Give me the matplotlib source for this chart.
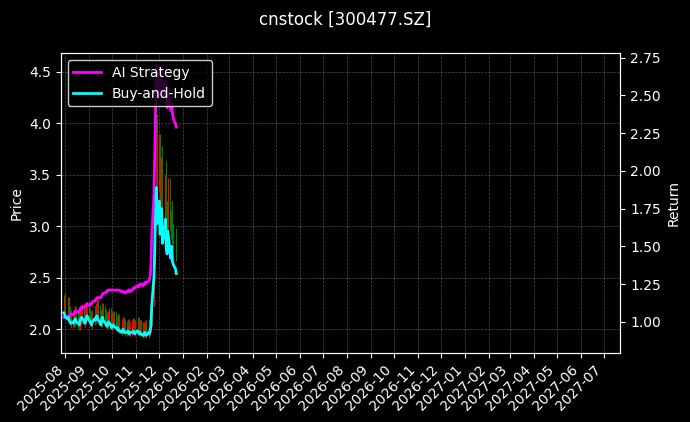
import matplotlib
matplotlib.use('Agg')
import matplotlib.pyplot as plt
import matplotlib.dates as mdates
import numpy as np
import pandas as pd

dates = pd.bdate_range('2025-07-30', periods=105)

closes = [2.22, 2.24, 2.18, 2.15, 2.20, 2.12, 2.08, 2.05, 2.08, 2.06, 2.10, 2.12, 2.08, 2.05, 2.03,
          2.07, 2.10, 2.14, 2.09, 2.06, 2.08, 2.12, 2.16, 2.10, 2.07,
          2.06, 2.04, 2.08, 2.12, 2.09, 2.15, 2.18, 2.13, 2.08, 2.06, 2.10, 2.15, 2.12, 2.09, 2.06,
          2.04, 2.07, 2.10, 2.06, 2.02, 2.04, 2.07,
          2.06, 2.03, 2.01, 2.04, 2.02, 2.00, 1.98, 2.00, 2.02, 1.99, 1.97, 1.98, 2.00, 1.99, 1.97,
          1.97, 1.99, 2.01, 1.99, 1.97, 1.99, 2.02, 1.99,
          1.97, 1.99, 1.97, 1.95, 1.97, 1.99, 1.97, 1.95, 1.99, 1.97, 2.01, 2.07,
          2.27, 2.68, 3.09, 3.50, 3.89, 3.40, 3.71, 3.25, 3.50, 3.60, 3.13, 3.34, 3.46,
          3.09, 2.99, 3.30, 3.01, 2.93, 3.09, 2.88, 2.84, 2.78, 2.72]

bh_returns = [1.06, 1.05, 1.03, 1.02, 1.03, 1.01, 1.00, 0.99, 1.00, 0.99, 1.01, 1.02, 1.00, 0.99, 0.98,
              1.00, 1.02, 1.03, 1.01, 0.99, 1.00, 1.02, 1.04, 1.01, 1.00,
              0.99, 0.98, 1.00, 1.02, 1.01, 1.03, 1.04, 1.02, 0.99, 0.98, 1.00, 1.03, 1.01, 0.99, 0.98,
              0.97, 0.98, 1.00, 0.98, 0.96, 0.97, 0.98,
              0.97, 0.96, 0.95, 0.96, 0.95, 0.94, 0.93, 0.94, 0.95, 0.93, 0.93, 0.93, 0.94, 0.93, 0.92,
              0.93, 0.93, 0.94, 0.93, 0.92, 0.93, 0.94, 0.93,
              0.92, 0.93, 0.92, 0.91, 0.92, 0.93, 0.92, 0.91, 0.93, 0.92, 0.94, 0.97,
              1.10, 1.30, 1.50, 1.70, 1.89, 1.65, 1.80, 1.58, 1.70, 1.75, 1.52, 1.62, 1.68,
              1.50, 1.45, 1.60, 1.46, 1.42, 1.50, 1.40, 1.38, 1.35, 1.32]

ai_returns = [1.03, 1.03, 1.04, 1.03, 1.03, 1.04, 1.04, 1.05, 1.05, 1.05, 1.06, 1.07, 1.07, 1.06, 1.07,
              1.08, 1.09, 1.10, 1.09, 1.10, 1.10, 1.11, 1.12, 1.11, 1.11,
              1.12, 1.12, 1.13, 1.14, 1.14, 1.15, 1.16, 1.16, 1.16, 1.16, 1.17, 1.18, 1.19, 1.19, 1.20,
              1.20, 1.21, 1.21, 1.21, 1.21, 1.21, 1.21,
              1.21, 1.21, 1.21, 1.21, 1.21, 1.21, 1.20, 1.20, 1.20, 1.20, 1.19, 1.20, 1.20, 1.21, 1.21,
              1.20, 1.21, 1.22, 1.22, 1.23, 1.23, 1.24, 1.23,
              1.24, 1.25, 1.25, 1.24, 1.25, 1.26, 1.25, 1.26, 1.27, 1.28, 1.30, 1.36,
              1.55, 1.85, 2.10, 2.40, 2.70, 2.45, 2.65, 2.50, 2.60, 2.68, 2.50, 2.55, 2.60,
              2.48, 2.42, 2.55, 2.45, 2.40, 2.45, 2.38, 2.35, 2.31, 2.29]

closes = np.array(closes)
opens = np.concatenate([[closes[0]], closes[:-1]])
highs = np.maximum(opens, closes) * 1.05
lows = np.minimum(opens, closes) * 0.98

plt.style.use('dark_background')
fig, ax = plt.subplots(figsize=(6.9, 4.22), dpi=100)
fig.subplots_adjust(left=0.088, right=0.899, top=0.874, bottom=0.164)
fig.suptitle('cnstock [300477.SZ]', fontsize=12, y=0.975)

colors = np.where(closes >= opens, 'red', 'green')
ax.vlines(dates, lows, highs, colors=colors, linewidth=0.8)
ax.set_ylabel('Price')
ax.set_ylim(1.77, 4.68)
ax.grid(True, linestyle='--', linewidth=0.5, color='gray', alpha=0.6)

ax2 = ax.twinx()
ax2.plot(dates, ai_returns, color='magenta', linewidth=2, label='AI Strategy')
ax2.plot(dates, bh_returns, color='cyan', linewidth=2, label='Buy-and-Hold')
ax2.set_ylabel('Return')
ax2.set_ylim(0.795, 2.78)
ax2.legend(loc='upper left', facecolor='black', edgecolor='white')

ax.set_xlim(pd.Timestamp('2025-07-26'), pd.Timestamp('2027-07-22'))
ax.xaxis.set_major_locator(mdates.MonthLocator())
ax.xaxis.set_major_formatter(mdates.DateFormatter('%Y-%m'))
plt.setp(ax.get_xticklabels(), rotation=45, ha='right')

fig.savefig('out.png', facecolor='black')
